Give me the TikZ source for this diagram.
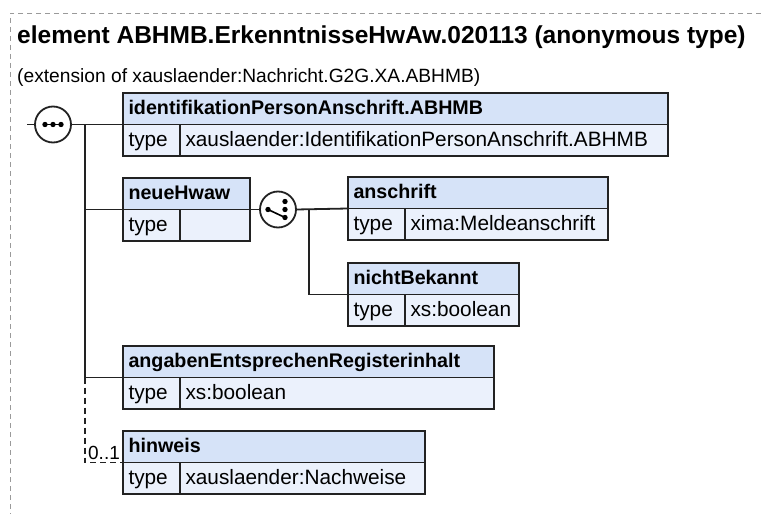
\documentclass[tikz,border=0pt]{standalone}
\usepackage{fontspec}
\setmainfont{Liberation Sans}
\definecolor{hdrfill}{HTML}{D6E3F8}
\definecolor{rowfill}{HTML}{EBF1FC}
\definecolor{boxline}{HTML}{222222}
\definecolor{framegray}{HTML}{9A9A9A}

\begin{document}
\begin{tikzpicture}[
    x=1pt, y=-1pt,
    elhdr/.style={rectangle, draw=boxline, fill=hdrfill, line width=1.8, outer sep=0, anchor=north west, minimum height=31.5, inner xsep=5.5, inner ysep=0, text height=15.5, text depth=4, align=left, font=\fontsize{19.7}{24}\selectfont\bfseries},
    eltype/.style={rectangle, draw=boxline, fill=rowfill, line width=1.8, outer sep=0, anchor=north west, minimum height=31.5, inner xsep=5.5, inner ysep=0, text height=15.5, text depth=4, text width=46, align=left, font=\fontsize{20.8}{24}\selectfont},
    elval/.style={eltype, text width=#1},
    compositor/.style={circle, draw=boxline, fill=white, line width=1.8, outer sep=0, minimum size=36, inner sep=0},
    link/.style={line width=1.8, draw=boxline},
    optlink/.style={link, dash pattern=on 6 off 4}
]
\useasboundingbox (0,0) rectangle (761,514);

% Rahmen
\draw[framegray, line width=1, dash pattern=on 5 off 4] (761,13) -- (10,13) -- (10,514);

% Titel
\node[anchor=base west, inner sep=0, font=\fontsize{24.5}{28}\selectfont\bfseries] (title) at (17,43) {element ABHMB.ErkenntnisseHwAw.020113 (anonymous type)};
\node[anchor=base west, inner sep=0, font=\fontsize{19.2}{23}\selectfont] (subtitle) at (17,82) {(extension of xauslaender:Nachricht.G2G.XA.ABHMB)};

% Element identifikationPersonAnschrift.ABHMB
\node[elhdr, text width=534] (idp) at (123,93) {identifikationPersonAnschrift.ABHMB};
\node[eltype] (idptype) at (idp.south west) {type};
\node[elval=477] (idpval) at (idptype.north east) {xauslaender:IdentifikationPersonAnschrift.ABHMB};

% Element neueHwaw
\node[elhdr, text width=116] (neue) at (123,178) {neueHwaw};
\node[eltype] (neuetype) at (neue.south west) {type};
\node[elval=59] (neueval) at (neuetype.north east) {};

% Element anschrift
\node[elhdr, text width=249] (ansch) at (348,177) {anschrift};
\node[eltype] (anschtype) at (ansch.south west) {type};
\node[elval=192] (anschval) at (anschtype.north east) {xima:Meldeanschrift};

% Element nichtBekannt
\node[elhdr, text width=160] (nbek) at (348,263) {nichtBekannt};
\node[eltype] (nbektype) at (nbek.south west) {type};
\node[elval=103] (nbekval) at (nbektype.north east) {xs:boolean};

% Element angabenEntsprechenRegisterinhalt
\node[elhdr, text width=360] (angaben) at (123,346) {angabenEntsprechenRegisterinhalt};
\node[eltype] (angabentype) at (angaben.south west) {type};
\node[elval=303] (angabenval) at (angabentype.north east) {xs:boolean};

% Element hinweis
\node[elhdr, text width=291] (hinweis) at (123,431) {hinweis};
\node[eltype] (hinweistype) at (hinweis.south west) {type};
\node[elval=234] (hinweisval) at (hinweistype.north east) {xauslaender:Nachweise};

% Sequenz
\coordinate (seqin) at (27,124.5);
\node[compositor] (seq) at (53,124.5) {};
\draw[line width=1.6] ([xshift=-10]seq.center) -- ([xshift=10]seq.center);
\foreach \dx in {-8,0,8}
    \fill ([xshift=\dx]seq.center) circle (2.7);

% Auswahl
\node[compositor] (choice) at (278,209.5) {};
\draw[line width=1.6] ([xshift=-10]choice.center) -- ([xshift=7,yshift=-8]choice.center);
\fill ([xshift=-10]choice.center) circle (2.7);
\foreach \dy in {-8,0,8}
    \fill ([xshift=7,yshift=\dy]choice.center) circle (2.7);

% Verbindungen
\coordinate (spine) at (85,124.5);
\coordinate (fork) at (309,209.5);
\draw[link] (seqin) -- (seq.west);
\draw[link] (seq.east) -- (idp.south west);
\draw[link] (spine) -- (spine |- angaben.south west);
\draw[link] (spine |- neue.south west) -- (neue.south west);
\draw[link] (spine |- angaben.south west) -- (angaben.south west);
\draw[optlink] (spine |- angaben.south west) -- (spine |- hinweis.south west) -- node[above, inner sep=1.5, font=\fontsize{19}{23}\selectfont] (card) {0..1} (hinweis.south west);
\draw[link] (neue.south east) -- (choice.west);
\draw[link] (choice.east) -- (ansch.south west);
\draw[link] (fork) -- (fork |- nbek.south west) -- (nbek.south west);

\end{tikzpicture}
\end{document}
